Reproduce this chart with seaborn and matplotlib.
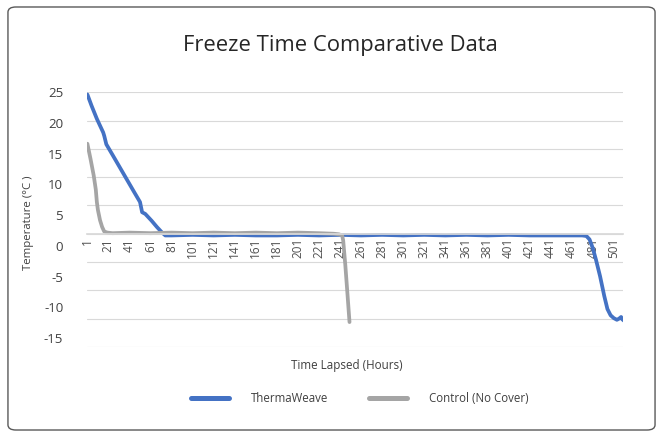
import matplotlib
matplotlib.use("Agg")
import matplotlib.pyplot as plt
from matplotlib.patches import FancyBboxPatch
from matplotlib.lines import Line2D
import pandas as pd
import seaborn as sns

# values (hours lapsed, temperature in degC)
therma_hours = [1, 5, 10, 16, 17, 19, 25, 30, 35, 40, 45, 51, 53, 56, 62, 67, 72, 75,
                81, 101, 121, 141, 161, 181, 201, 221, 241, 261, 281, 301, 321, 341,
                361, 381, 401, 421, 441, 461, 471, 475, 478, 481, 484, 488, 492, 495,
                498, 501, 504, 506, 508, 509, 511]
therma_temp = [24.6, 22.6, 20.3, 17.9, 17.3, 15.8, 13.9, 12.3, 10.7, 9.1, 7.5, 5.6, 3.8,
               3.5, 2.3, 1.2, 0.2, -0.3,
               -0.3, -0.2, -0.3, -0.2, -0.3, -0.3, -0.2, -0.3, -0.2, -0.3, -0.2, -0.3,
               -0.2, -0.3, -0.2, -0.3, -0.2, -0.3, -0.3, -0.3, -0.3, -0.4, -1.0, -2.5,
               -4.5, -7.5, -11.0, -13.3, -14.4, -14.9, -15.2, -15.0, -14.7, -15.1, -15.4]

control_hours = [1, 4, 7, 9, 10, 11, 13, 15, 17, 20, 25, 41, 61, 81, 101, 121, 141,
                 161, 181, 201, 221, 235, 240, 243, 244, 246, 248, 250]
control_temp = [15.9, 13.2, 10.3, 7.8, 5.6, 4.2, 2.4, 1.2, 0.4, 0.2, 0.1, 0.2, 0.1,
                0.2, 0.1, 0.2, 0.1, 0.2, 0.1, 0.2, 0.1, 0.0, -0.1, -0.3, -1.2, -5.5,
                -10.5, -15.6]

series_names = ["ThermaWeave", "Control (No Cover)"]
x_ticks = list(range(1, 502, 20))
y_grid = list(range(-20, 26, 5))
y_labels = list(range(-15, 26, 5))

df = pd.concat([
    pd.DataFrame({"Hours": therma_hours, "Temp": therma_temp, "Series": series_names[0]}),
    pd.DataFrame({"Hours": control_hours, "Temp": control_temp, "Series": series_names[1]}),
])

sns.set_theme(style="white")
plt.rcParams["font.family"] = ["Open Sans", "DejaVu Sans"]
plt.rcParams["axes.unicode_minus"] = False

colors = {series_names[0]: "#4472C4", series_names[1]: "#A5A5A5"}
text_color = "#404040"

fig = plt.figure(figsize=(6.63, 4.37), dpi=100)
rect = [0.131, 0.206, 0.809, 0.583]
ax = fig.add_axes(rect)

sns.lineplot(data=df, x="Hours", y="Temp", hue="Series", palette=colors,
             linewidth=2.7, sort=False, estimator=None, legend=False, ax=ax)

ax.set_xlim(0.5, 510)
ax.set_ylim(-20, 25)
ax.set_yticks(y_grid)
ax.yaxis.grid(True, color="#D9D9D9", linewidth=0.8)
ax.set_axisbelow(True)
ax.tick_params(axis="y", length=0, labelleft=False)

# category axis crosses at zero, labels hang below it
ax.spines["bottom"].set_position(("data", 0))
ax.spines["bottom"].set_color("#D9D9D9")
for s in ["top", "right", "left"]:
    ax.spines[s].set_visible(False)
ax.set_xticks(x_ticks)
ax.set_xticklabels([str(t) for t in x_ticks], rotation=90, fontsize=8.5, color="#505050")
ax.tick_params(axis="x", length=0, pad=3)
ax.set_xlabel("")
ax.set_ylabel("")

# value labels sit on their own slightly stretched scale, as in the reference
lab_ax = fig.add_axes(rect, frameon=False)
lab_ax.set_ylim(-16.46, 25)
lab_ax.set_yticks(y_labels)
lab_ax.set_xticks([])
lab_ax.tick_params(axis="y", length=0, pad=17, labelsize=9.5, labelcolor=text_color)
lab_ax.patch.set_visible(False)

fig.text(0.513, 0.897, "Freeze Time Comparative Data", ha="center", va="center",
         fontsize=15.8, color="#262626")
fig.text(0.043, 0.49, "Temperature (°C )", rotation=90, ha="center", va="center",
         fontsize=8.2, color=text_color)
fig.text(0.523, 0.164, "Time Lapsed (Hours)", ha="center", va="center",
         fontsize=8.4, color=text_color)

handles = [Line2D([], [], color=colors[n], linewidth=3.6) for n in series_names]
fig.legend(handles, series_names, loc="center", bbox_to_anchor=(0.543, 0.087),
           ncol=2, frameon=False, fontsize=8.3, handlelength=3.3, handletextpad=1.9,
           columnspacing=3.5, labelcolor=text_color)

fig.patches.append(FancyBboxPatch((0.012, 0.016), 0.976, 0.968,
                                  boxstyle="round,pad=0,rounding_size=0.012",
                                  transform=fig.transFigure, fill=False,
                                  edgecolor="#595959", linewidth=1.0))

fig.savefig("out.png", dpi=100)
